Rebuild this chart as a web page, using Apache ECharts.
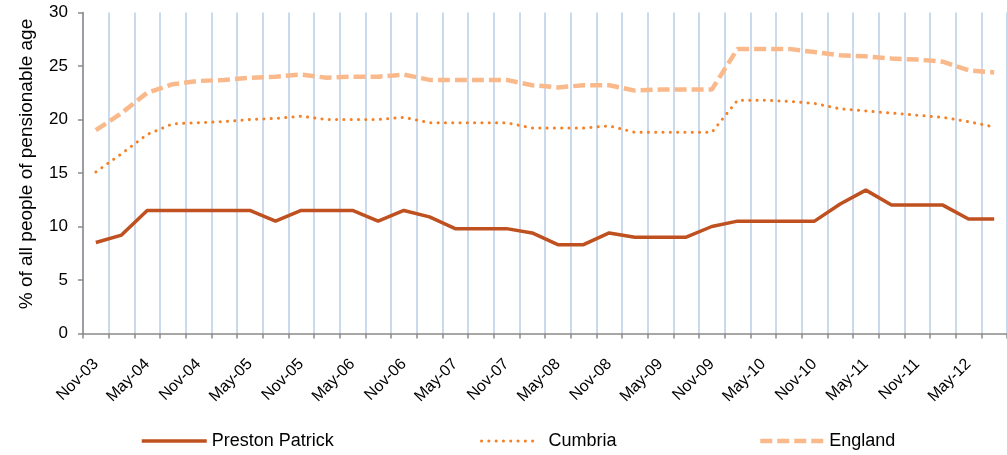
<!DOCTYPE html>
<html>
<head>
<meta charset="utf-8">
<title>Pensionable age</title>
<script src="https://cdn.jsdelivr.net/npm/echarts@6/dist/echarts.min.js"></script>
<style>
  html, body { margin: 0; padding: 0; background: #fff; }
  #myChart { width: 1007px; height: 455px; }
</style>
</head>
<body>
<div id="myChart"></div>
<script>
// quarterly points, Nov-03 .. Aug-12
var categories = ['Nov-03','Feb-04','May-04','Aug-04','Nov-04','Feb-05','May-05','Aug-05',
  'Nov-05','Feb-06','May-06','Aug-06','Nov-06','Feb-07','May-07','Aug-07',
  'Nov-07','Feb-08','May-08','Aug-08','Nov-08','Feb-09','May-09','Aug-09',
  'Nov-09','Feb-10','May-10','Aug-10','Nov-10','Feb-11','May-11','Aug-11',
  'Nov-11','Feb-12','May-12','Aug-12'];

var prestonPatrick = [8.5, 9.2, 11.5, 11.5, 11.5, 11.5, 11.5, 10.5, 11.5, 11.5, 11.5, 10.5,
  11.5, 10.9, 9.8, 9.8, 9.8, 9.4, 8.3, 8.3, 9.4, 9.0, 9.0, 9.0,
  10.0, 10.5, 10.5, 10.5, 10.5, 12.1, 13.4, 12.0, 12.0, 12.0, 10.7, 10.7];

var cumbria = [15.1, 16.8, 18.6, 19.6, 19.7, 19.8, 20.0, 20.1, 20.3, 20.0, 20.0, 20.0,
  20.2, 19.7, 19.7, 19.7, 19.7, 19.2, 19.2, 19.2, 19.4, 18.8, 18.8, 18.8,
  18.8, 21.8, 21.8, 21.7, 21.5, 21.0, 20.8, 20.6, 20.4, 20.2, 19.8, 19.3];

var england = [19.0, 20.6, 22.5, 23.3, 23.6, 23.7, 23.9, 24.0, 24.2, 23.9, 24.0, 24.0,
  24.2, 23.7, 23.7, 23.7, 23.7, 23.2, 23.0, 23.2, 23.2, 22.7, 22.8, 22.8,
  22.8, 26.6, 26.6, 26.6, 26.3, 26.0, 25.9, 25.7, 25.6, 25.4, 24.6, 24.4];

var font = '"Liberation Sans", Arial, sans-serif';

var prestonStyle = { color: '#bf501f', width: 3.5 };
var cumbriaStyle = { color: '#f58025', width: 3, type: [0.1, 7.2], cap: 'round' };
var englandStyle = { color: '#fab98b', width: 4.5, type: [12, 5] };

var legendText = { fontFamily: font, fontSize: 18, color: '#000' };

// one legend per item so each can sit where the original puts it
function legendAt(name, left, w, style, textPad) {
  return {
    data: [name],
    left: left,
    top: 432,
    padding: 0,
    itemWidth: w,
    itemHeight: 14,
    itemStyle: { opacity: 0 },
    lineStyle: style,
    textStyle: Object.assign({ padding: [0, 0, 0, textPad] }, legendText)
  };
}

var option = {
  animation: false,
  grid: {
    left: 83,
    top: 12.5,
    width: 930,   // plot runs a little past the right edge, like the source
    height: 321
  },
  legend: [
    legendAt('Preston Patrick', 140, 65, prestonStyle, 0),
    legendAt('Cumbria', 480, 56, cumbriaStyle, 6),
    legendAt('England', 758, 64, englandStyle, 0)
  ],
  xAxis: {
    type: 'category',
    data: categories,
    boundaryGap: true,
    axisLine: { lineStyle: { color: '#8a8a8a', width: 1.5 } },
    axisTick: { show: true, interval: 0, length: 5, lineStyle: { color: '#8a8a8a', width: 1.5 } },
    axisLabel: {
      interval: 1,
      rotate: 45,
      margin: 28,
      fontFamily: font,
      fontSize: 16,
      color: '#000'
    },
    splitLine: { show: true, interval: 0, lineStyle: { color: '#b9cde5', width: 1.5 } }
  },
  yAxis: {
    type: 'value',
    min: 0,
    max: 30,
    interval: 5,
    name: '% of all people of pensionable age',
    nameLocation: 'middle',
    nameGap: 47,
    nameTextStyle: { fontFamily: font, fontSize: 19, color: '#000', padding: [0, 0, 0, 18] },
    axisLine: { show: true, lineStyle: { color: '#8a8a8a', width: 1.5 } },
    axisTick: { show: true, length: 5, lineStyle: { color: '#8a8a8a', width: 1.5 } },
    axisLabel: { margin: 15, fontFamily: font, fontSize: 17, color: '#000' },
    splitLine: { show: false }
  },
  series: [
    {
      name: 'Preston Patrick',
      type: 'line',
      data: prestonPatrick,
      symbol: 'none',
      lineStyle: prestonStyle,
      itemStyle: { color: prestonStyle.color }
    },
    {
      name: 'Cumbria',
      type: 'line',
      data: cumbria,
      symbol: 'none',
      lineStyle: cumbriaStyle,
      itemStyle: { color: cumbriaStyle.color }
    },
    {
      name: 'England',
      type: 'line',
      data: england,
      symbol: 'none',
      lineStyle: englandStyle,
      itemStyle: { color: englandStyle.color }
    }
  ]
};

var myChart = echarts.init(document.getElementById('myChart'));
myChart.setOption(option);
</script>
</body>
</html>
